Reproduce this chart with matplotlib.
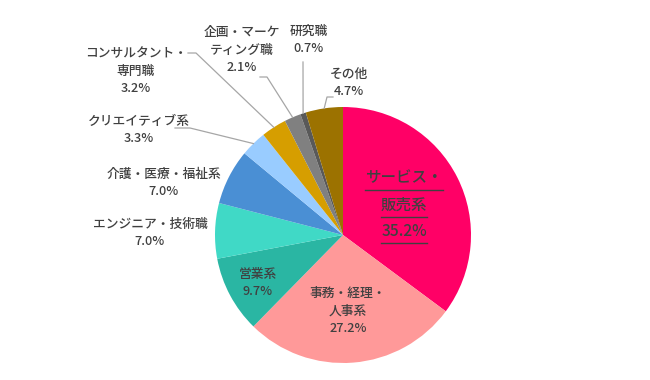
import numpy as np
import matplotlib
matplotlib.use('Agg')
import matplotlib.pyplot as plt
from matplotlib.lines import Line2D

plt.rcParams['font.family'] = ['Noto Sans CJK JP', 'DejaVu Sans']
plt.rcParams['font.weight'] = 'medium'

# data
labels = ['サービス・\n販売系', '事務・経理・\n人事系', '営業系', 'エンジニア・技術職',
          '介護・医療・福祉系', 'クリエイティブ系', 'コンサルタント・\n専門職',
          '企画・マーケ\nティング職', '研究職', 'その他']
values = [35.2, 27.2, 9.7, 7.0, 7.0, 3.3, 3.2, 2.1, 0.7, 4.7]
colors = ['#FF0066', '#FF9999', '#2AB6A3', '#40D9C6', '#4A8FD4',
          '#99CCFF', '#D69E00', '#808080', '#595959', '#9C7200']

W, H = 650, 380
CX, CY, R = 343, 235, 128   # pie centre / radius in pixels
TEXT = '#404040'
LEAD = '#A6A6A6'


def px(x, y):
    # pixel position -> pie data coords
    return (x - CX) / R, (CY - y) / R


fig = plt.figure(figsize=(W / 100, H / 100), dpi=100)
ax = fig.add_axes([(CX - R) / W, (H - CY - R) / H, 2 * R / W, 2 * R / H])
wedges, _ = ax.pie(values, colors=colors, startangle=90, counterclock=False,
                   radius=1, wedgeprops=dict(linewidth=0))
ax.set_xlim(-1, 1)
ax.set_ylim(-1, 1)
ax.axis('off')

# label block centres (pixels)
label_pos = [None, (348, 311), (258, 283), (150, 233), (164, 183),
             (139, 130), (136, 71), (242, 50), (309, 40), (349, 83)]
fs = 9.2
for i, (lab, v) in enumerate(zip(labels, values)):
    if label_pos[i] is None:
        continue
    x, y = px(*label_pos[i])
    ax.text(x, y, lab + '\n' + '{:.1f}%'.format(v), ha='center', va='center',
            fontsize=fs, color=TEXT, linespacing=1.45, clip_on=False)

# big label inside the first slice, underlined line by line
big = []
for txt, yy in zip(['サービス・', '販売系', '{:.1f}%'.format(values[0])], [178, 205, 231]):
    x, y = px(404, yy)
    big.append(ax.text(x, y, txt, ha='center', va='center', fontsize=11.2,
                       color=TEXT, clip_on=False))

# leader lines: elbow points near label, end on rim at wedge middle
elbows = {6: [(188, 53), (196, 53)],
          5: [(175, 128), (190, 128)],
          7: [(260, 77), (267, 77)],
          8: [(303, 62)],
          9: [(333, 97), (327, 97)]}
for i, pts in elbows.items():
    w = wedges[i]
    mid = np.deg2rad((w.theta1 + w.theta2) / 2)
    xs = [px(*p)[0] for p in pts] + [np.cos(mid)]
    ys = [px(*p)[1] for p in pts] + [np.sin(mid)]
    ax.plot(xs, ys, color=LEAD, lw=0.9, clip_on=False)

fig.canvas.draw()
rend = fig.canvas.get_renderer()
inv = fig.transFigure.inverted()
for t in big:
    bb = t.get_window_extent(rend)
    (x0, y0), (x1, _) = inv.transform([(bb.x0, bb.y0 - 3), (bb.x1, bb.y0)])
    fig.add_artist(Line2D([x0, x1], [y0, y0], color=TEXT, lw=1.0,
                          transform=fig.transFigure))

fig.savefig('out.png', dpi=100, facecolor='white')
